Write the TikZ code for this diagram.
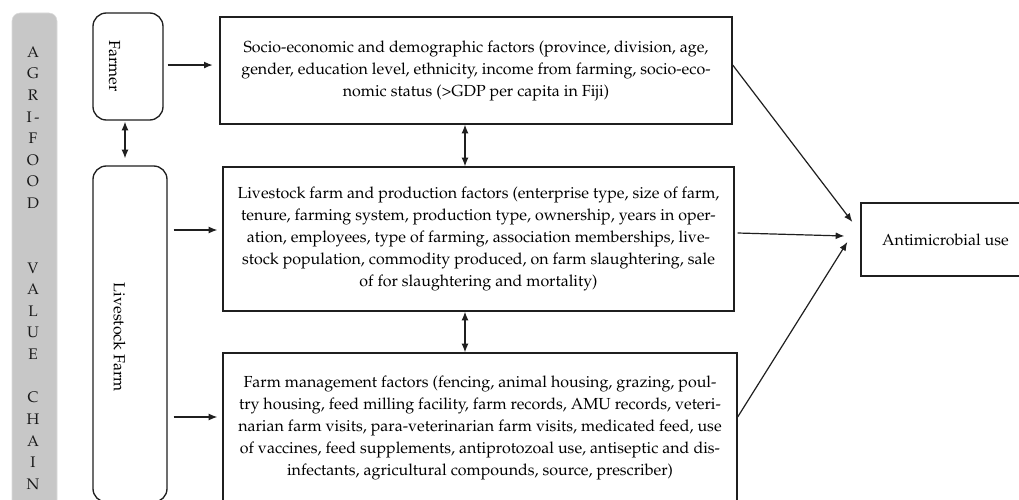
\documentclass[tikz,border=0pt]{standalone}
\usepackage[T1]{fontenc}
\usepackage{mathpazo}
\usetikzlibrary{arrows.meta,calc}
\begin{document}
\begin{tikzpicture}[x=0.75pt,y=-0.75pt,
 ln/.style={draw=black!88, line width=1pt},
 fbox/.style={ln, rectangle, inner sep=0pt, align=center, font=\fontsize{12}{16.5}\selectfont, text=black},
 rbox/.style={ln, rectangle, rounded corners=10pt, inner sep=0pt},
 arr/.style={black!88, line width=0.9pt, -{Latex[length=6.5pt,width=5.2pt]}},
 darr/.style={black!88, line width=0.9pt, {Latex[length=6.5pt,width=5.2pt]}-{Latex[length=6.5pt,width=5.2pt]}},
 vlab/.style={rotate=-90, font=\fontsize{12}{14}\selectfont, inner sep=0pt, text=black},
 barlet/.style={font=\fontsize{11.5}{13}\selectfont, text=black!90, inner sep=0pt}
]
\clip (0,0) rectangle (1019,499);
\fill[white] (0,0) rectangle (1019,499);
\node[draw=black!14, fill=black!22, rounded corners=6pt, minimum width=33.75pt, minimum height=372.75pt, inner sep=0pt] (bar) at (34.5,261.5) {};
\foreach \k/\t in {0/A,1/G,2/R,3/{I\,-},4/F,5/O,6/O,7/D,10/V,11/A,12/L,13/U,14/E,16/C,17/H,18/A,19/I,20/N}{
  \node[barlet] (let\k) at (33,{52+21.6*\k}) {\t};
}
\node[rbox, minimum width=52.5pt, minimum height=80.25pt] (farmer) at (128,66.5) {};
\node[vlab] (farmerlab) at (114.5,66) {Farmer};
\node[rbox, minimum width=55.5pt, minimum height=252pt] (live) at (130,334) {};
\node[vlab] (livelab) at (119.5,337.5) {Livestock Farm};

\node[fbox, minimum width=384pt, minimum height=80.25pt] (soc) at (476,70.5) {Socio-economic and demographic factors (province, division, age,\\ gender, education level, ethnicity, income from farming, socio-eco-\\ nomic status (>GDP per capita in Fiji)};
\node[fbox, minimum width=383.25pt, minimum height=108pt] (lfp) at (478.5,239) {Livestock farm and production factors (enterprise type, size of farm,\\ tenure, farming system, production type, ownership, years in oper-\\ ation, employees, type of farming, association memberships, live-\\ stock population, commodity produced, on farm slaughtering, sale\\ of for slaughtering and mortality)};
\node[fbox, minimum width=385.5pt, minimum height=112.5pt] (fmf) at (480,428) {Farm management factors (fencing, animal housing, grazing, poul-\\ try housing, feed milling facility, farm records, AMU records, veteri-\\ narian farm visits, para-veterinarian farm visits, medicated feed, use\\ of vaccines, feed supplements, antiprotozoal use, antiseptic and dis-\\ infectants, agricultural compounds, source, prescriber)};
\node[fbox, minimum width=126.75pt, minimum height=54.75pt] (amu) at (945.5,239.5) {Antimicrobial use};

\draw[arr] ([xshift=3pt,yshift=1.1pt]farmer.east) -- ([xshift=-5pt,yshift=1.1pt]farmer.east -| soc.west);
\draw[arr] ([xshift=4.5pt,yshift=78pt]live.east) -- ([xshift=-3.75pt,yshift=78pt]live.east -| lfp.west);
\draw[arr] ([xshift=4.5pt,yshift=-62.25pt]live.east) -- ([xshift=-3.75pt,yshift=-62.25pt]live.east -| fmf.west);
\draw[darr] ([xshift=-2.25pt,yshift=-0.75pt]farmer.south) -- ([xshift=-2.25pt,yshift=5.25pt]farmer.south |- live.north);
\draw[darr] ([xshift=-8.25pt]soc.south) -- ([xshift=-8.25pt]soc.south |- lfp.north);
\draw[darr] ([xshift=-10.125pt]lfp.south) -- ([xshift=-10.125pt]lfp.south |- fmf.north);
\draw[arr] ([yshift=4.125pt]soc.east) -- ([xshift=-6pt,yshift=13.125pt]amu.west);
\draw[arr] ([xshift=2.25pt,yshift=4.5pt]lfp.east) -- ([xshift=-12pt,yshift=2.625pt]amu.west);
\draw[arr] ([yshift=8.25pt]fmf.east) -- ([xshift=-9.75pt,yshift=-1.875pt]amu.west);
\end{tikzpicture}
\end{document}
